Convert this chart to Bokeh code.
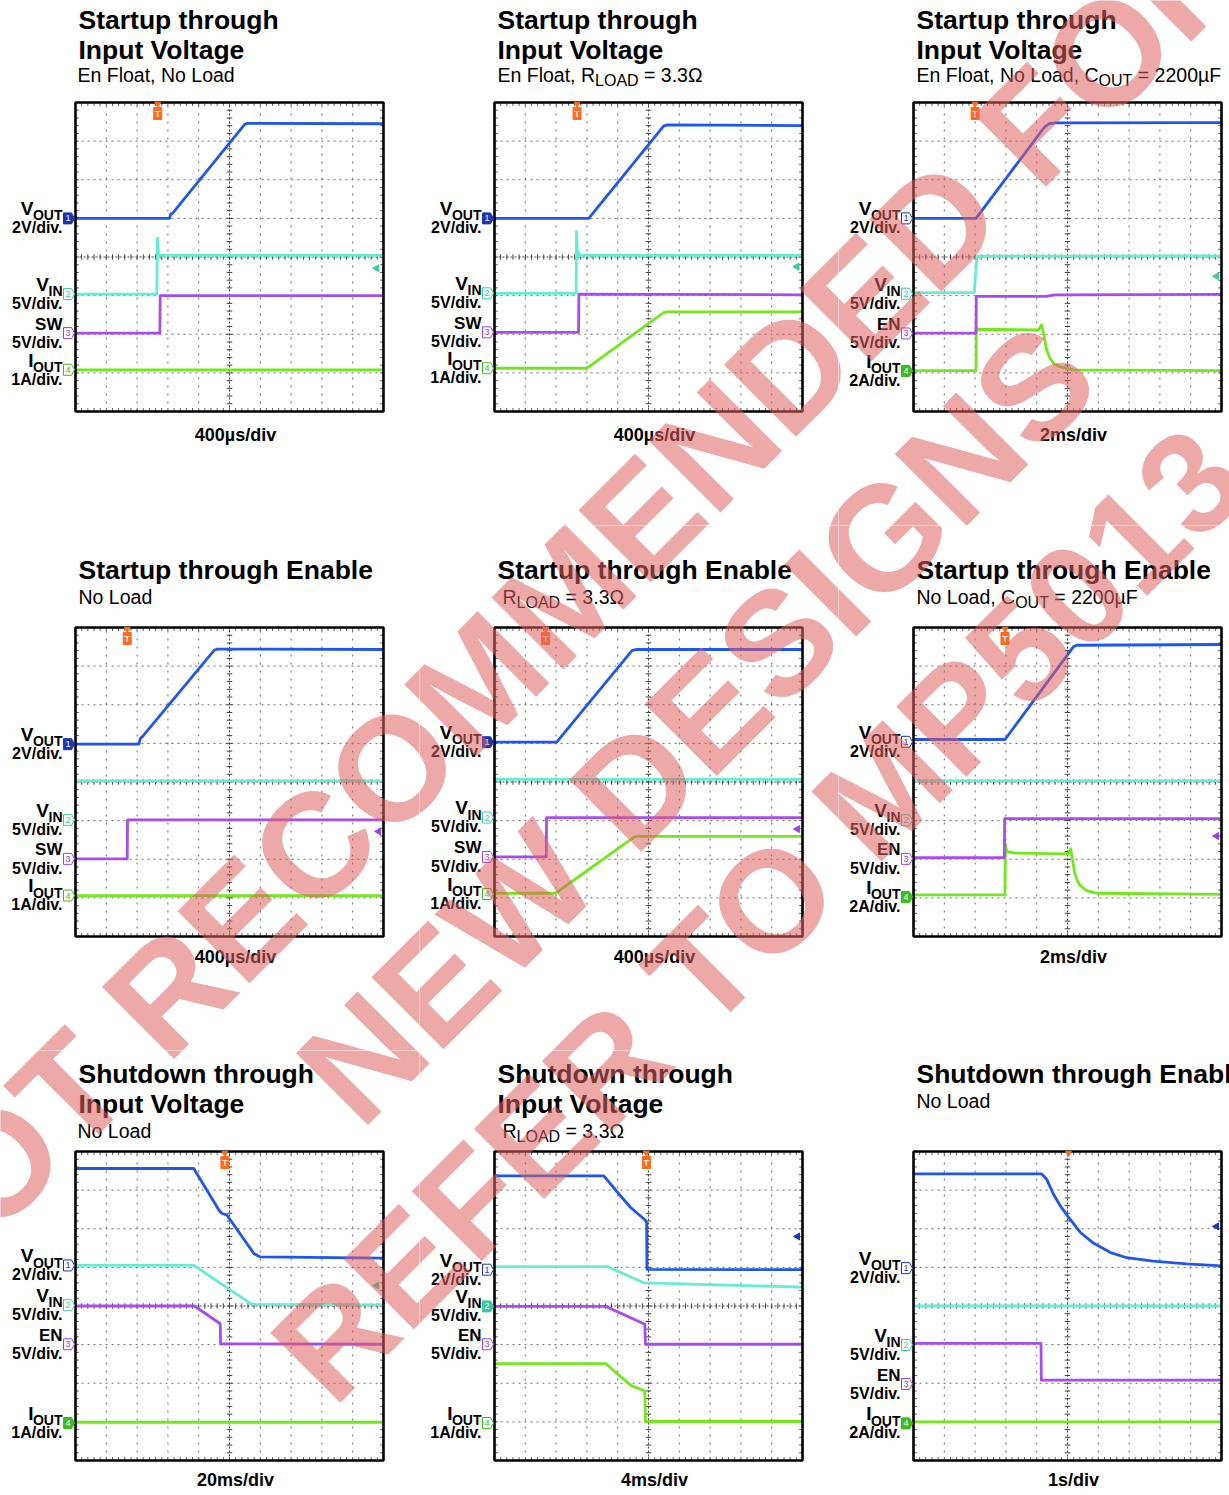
import numpy as np
from bokeh.plotting import figure
from bokeh.models import Label, Range1d
from bokeh.core.properties import value
from bokeh.layouts import column, row
from bokeh.embed import file_html
from bokeh.resources import INLINE

FONT = "Liberation Sans"

# ---------------- data (scope divisions: x 0..10, y 0..8) ----------------
# Panel 1 : Startup through Input Voltage, En Float, No Load
P1_VOUT_T = [0, 3.05, 3.10, 3.15, 5.50, 5.60, 10]
P1_VOUT_V = [5.00, 5.00, 5.12, 5.13, 7.44, 7.46, 7.45]
P1_VIN_T = [0, 2.64, 2.66, 2.70, 10]
P1_VIN_V = [3.04, 3.04, 4.49, 4.04, 4.04]
P1_SW_T = [0, 2.74, 2.75, 10]
P1_SW_V = [2.03, 2.03, 3.00, 3.00]
P1_IOUT_T = [0, 10]
P1_IOUT_V = [1.08, 1.08]
P1_MARK = [5.00, 3.04, 2.03, 1.08]

# Panel 2 : Startup through Input Voltage, RLOAD = 3.3
P2_VOUT_T = [0, 3.06, 5.49, 5.60, 10]
P2_VOUT_V = [5.00, 5.00, 7.39, 7.42, 7.40]
P2_VIN_T = [0, 2.65, 2.66, 2.70, 2.74, 2.78, 10]
P2_VIN_V = [3.06, 3.06, 4.66, 3.95, 4.10, 4.04, 4.04]
P2_SW_T = [0, 2.73, 2.74, 10]
P2_SW_V = [2.05, 2.05, 3.04, 3.02]
P2_IOUT_T = [0, 3.00, 5.49, 5.60, 10]
P2_IOUT_V = [1.12, 1.12, 2.56, 2.58, 2.58]
P2_MARK = [5.00, 3.06, 2.05, 1.12]

# Panel 3 : Startup through Input Voltage, COUT = 2200uF
P3_VOUT_T = [0, 2.03, 4.25, 4.40, 4.60, 10]
P3_VOUT_V = [5.00, 5.00, 7.36, 7.45, 7.47, 7.48]
P3_VIN_T = [0, 1.97, 2.00, 2.06, 2.10, 10]
P3_VIN_V = [3.08, 3.08, 3.40, 4.00, 4.02, 4.03]
P3_EN_T = [0, 2.03, 2.04, 4.30, 4.60, 10]
P3_EN_V = [2.03, 2.03, 2.98, 2.98, 3.02, 3.03]
P3_IOUT_T = [0, 2.03, 2.04, 2.08, 4.05, 4.16, 4.24, 4.32, 4.42, 4.54, 4.70, 4.86, 5.19, 10]
P3_IOUT_V = [1.06, 1.06, 2.20, 2.13, 2.11, 2.24, 1.95, 1.60, 1.40, 1.25, 1.18, 1.14, 1.08, 1.06]
P3_MARK = [5.00, 3.05, 2.02, 1.05]

# Panel 4 : Startup through Enable, No Load
P4_VOUT_T = [0, 2.06, 2.10, 2.20, 4.50, 4.60, 10]
P4_VOUT_V = [4.98, 4.98, 5.12, 5.20, 7.41, 7.44, 7.43]
P4_VIN_T = [0, 10]
P4_VIN_V = [4.03, 4.03]
P4_SW_T = [0, 1.68, 1.69, 10]
P4_SW_V = [2.01, 2.01, 3.02, 3.02]
P4_IOUT_T = [0, 10]
P4_IOUT_V = [1.06, 1.06]
P4_MARK = [4.98, 3.02, 2.01, 1.06]

# Panel 5 : Startup through Enable, RLOAD = 3.3
P5_VOUT_T = [0, 2.02, 4.47, 4.60, 10]
P5_VOUT_V = [5.03, 5.03, 7.41, 7.43, 7.43]
P5_VIN_T = [0, 10]
P5_VIN_V = [4.07, 4.07]
P5_SW_T = [0, 1.68, 1.69, 10]
P5_SW_V = [2.06, 2.06, 3.08, 3.08]
P5_IOUT_T = [0, 1.98, 4.53, 4.65, 10]
P5_IOUT_V = [1.12, 1.12, 2.57, 2.59, 2.59]
P5_MARK = [5.03, 3.08, 2.06, 1.10]

# Panel 6 : Startup through Enable, COUT = 2200uF
P6_VOUT_T = [0, 2.97, 5.19, 5.30, 10]
P6_VOUT_V = [5.10, 5.10, 7.50, 7.54, 7.56]
P6_VIN_T = [0, 10]
P6_VIN_V = [4.03, 4.03]
P6_EN_T = [0, 2.95, 2.96, 10]
P6_EN_V = [2.04, 2.04, 3.05, 3.05]
P6_IOUT_T = [0, 2.97, 2.98, 3.03, 3.30, 5.03, 5.10, 5.17, 5.24, 5.32, 5.41, 5.62, 5.95, 10]
P6_IOUT_V = [1.08, 1.08, 2.40, 2.20, 2.16, 2.14, 2.27, 1.95, 1.62, 1.45, 1.32, 1.19, 1.12, 1.09]
P6_MARK = [5.04, 3.01, 2.01, 1.02]

# Panel 7 : Shutdown through Input Voltage, No Load
P7_VOUT_T = [0, 3.84, 4.66, 4.75, 4.92, 5.80, 6.00, 10]
P7_VOUT_V = [7.56, 7.56, 6.48, 6.40, 6.35, 5.35, 5.27, 5.24]
P7_VIN_T = [0, 3.84, 5.69, 5.85, 10]
P7_VIN_V = [5.05, 5.05, 4.06, 4.04, 4.03]
P7_EN_T = [0, 3.86, 4.70, 4.71, 10]
P7_EN_V = [4.00, 4.00, 3.54, 3.02, 3.01]
P7_IOUT_T = [0, 10]
P7_IOUT_V = [0.99, 0.99]
P7_MARK = [5.05, 4.02, 3.01, 0.97]

# Panel 8 : Shutdown through Input Voltage, RLOAD = 3.3
P8_VOUT_T = [0, 3.55, 4.04, 4.42, 4.90, 4.94, 4.95, 10]
P8_VOUT_V = [7.37, 7.37, 6.90, 6.55, 6.22, 6.15, 4.95, 4.94]
P8_VIN_T = [0, 3.66, 4.85, 10]
P8_VIN_V = [5.02, 5.02, 4.60, 4.49]
P8_EN_T = [0, 3.61, 4.88, 4.90, 10]
P8_EN_V = [3.99, 3.99, 3.53, 3.01, 3.01]
P8_IOUT_T = [0, 3.61, 4.04, 4.42, 4.88, 4.90, 10]
P8_IOUT_V = [2.51, 2.51, 2.21, 1.95, 1.80, 1.01, 1.01]
P8_MARK = [4.94, 3.99, 3.01, 0.97]

# Panel 9 : Shutdown through Enable, No Load
P9_VOUT_T = [0, 4.16, 4.32, 4.54, 4.76, 5.03, 5.41, 5.84, 6.38, 6.92, 7.78, 8.86, 10]
P9_VOUT_V = [7.42, 7.42, 7.29, 6.90, 6.60, 6.30, 5.91, 5.63, 5.39, 5.25, 5.16, 5.09, 5.04]
P9_VIN_T = [0, 10]
P9_VIN_V = [4.00, 4.00]
P9_EN_T = [0, 4.14, 4.15, 10]
P9_EN_V = [3.03, 3.03, 2.08, 2.08]
P9_IOUT_T = [0, 10]
P9_IOUT_V = [1.00, 1.00]
P9_MARK = [4.98, 2.99, 1.98, 0.96]

TITLES = [["Startup through", "Input Voltage"], ["Startup through", "Input Voltage"],
          ["Startup through", "Input Voltage"], ["Startup through Enable"],
          ["Startup through Enable"], ["Startup through Enable"],
          ["Shutdown through", "Input Voltage"], ["Shutdown through", "Input Voltage"],
          ["Shutdown through Enable"]]
SUBTITLES = [[("En Float, No Load", 0)],
             [("En Float, R", 0), ("LOAD", 1), (" = 3.3Ω", 0)],
             [("En Float, No Load, C", 0), ("OUT", 1), (" = 2200µF", 0)],
             [("No Load", 0)],
             [("R", 0), ("LOAD", 1), (" = 3.3Ω", 0)],
             [("No Load, C", 0), ("OUT", 1), (" = 2200µF", 0)],
             [("No Load", 0)],
             [("R", 0), ("LOAD", 1), (" = 3.3Ω", 0)],
             [("No Load", 0)]]
TIME_DIV = ["400µs/div", "400µs/div", "2ms/div", "400µs/div", "400µs/div", "2ms/div",
            "20ms/div", "4ms/div", "1s/div"]
NAMES_SW = [("V", "OUT", "2V/div."), ("V", "IN", "5V/div."), ("SW", "", "5V/div."), ("I", "OUT", "1A/div.")]
NAMES_EN2 = [("V", "OUT", "2V/div."), ("V", "IN", "5V/div."), ("EN", "", "5V/div."), ("I", "OUT", "2A/div.")]
NAMES_EN1 = [("V", "OUT", "2V/div."), ("V", "IN", "5V/div."), ("EN", "", "5V/div."), ("I", "OUT", "1A/div.")]
CH_NAMES = [NAMES_SW, NAMES_SW, NAMES_EN2, NAMES_SW, NAMES_SW, NAMES_EN2, NAMES_EN1, NAMES_EN1, NAMES_EN2]
FILLED = [0, 0, 3, 0, 0, 3, 3, 1, 3]
TRIGGER = [2.67, 2.68, 2.00, 1.68, 1.66, 2.97, 4.85, 4.93, 5.03]
ARROW_X = [9.78, 9.82, 9.84, 9.84, 9.84, 9.84, 9.78, 9.84, 9.84]
ARROW_Y = [3.71, 3.75, 3.50, 2.72, 2.78, 2.60, 4.53, 5.80, 6.06]
ARROW_CH = [1, 1, 1, 2, 2, 2, 1, 0, 0]

WATERMARK = ["NOT RECOMMENDED FOR", "NEW DESIGNS", "REFER TO MP5013"]

# ---------------- styling / layout ----------------
C_TRACE = ["#1f56f0", "#66ecd2", "#a64cf2", "#72e81c"]
C_MARK = ["#1c34b8", "#3cc8a0", "#9a40f0", "#3cbc1c"]
C_TRIG = "#ff6a1f"
COL_W = [419, 419, 391]
ROW_H = [525, 525, 445]
ROW_BT = [102, 102, 101]
COL_X0 = [0, 419, 838]
ROW_Y0 = [0, 525, 1050]
BL = 75
FW, FH = 308, 309
PX, PY = FW / 10.0, FH / 8.0
WM_POS = [(-120, 1279), (324, 1095), (298, 1374)]   # page px, start of each watermark line
WM_SIZE = [148, 148, 144]
TITLE_Y = [[382, 352], [382, 352], [382, 352], [357], [357], [357], [377, 347], [377, 347], [377]]
SUB_Y = [330, 330, 330, 333, 333, 333, 323, 323, 353]
SUB_X = [2, 3, 3, 3, 8, 3, 2, 8, 3]
TIME_Y = [-30, -30, -30, -27, -27, -27, -26, -26, -26]
MID = 0.35          # distance from text middle down to its baseline, in em

REG_W = {' ': 278, ',': 278, '.': 278, '/': 278, '=': 584, 'µ': 556, 'Ω': 768,
         'A': 667, 'C': 722, 'D': 722, 'E': 667, 'F': 611, 'I': 278, 'L': 556, 'N': 722,
         'O': 778, 'R': 722, 'S': 667, 'T': 611, 'U': 722, 'V': 667, 'W': 944,
         'a': 556, 'd': 556, 'l': 222, 'n': 556, 'o': 556, 't': 278}
for _c in "0123456789":
    REG_W[_c] = 556
BOLD_W = {' ': 278, '.': 278, '/': 278, 'A': 722, 'E': 667, 'I': 278, 'N': 722, 'O': 778,
          'S': 667, 'T': 611, 'U': 722, 'V': 667, 'W': 944, 'd': 611, 'i': 278, 'v': 556}


def tw(s, size, bold=False):
    t = BOLD_W if bold else REG_W
    return sum(t.get(c, 556) for c in s) * size / 1000.0


def lab(p, **kw):
    kw.setdefault("text_font", FONT)
    kw.setdefault("text_color", "black")
    p.add_layout(Label(**kw))


def make_panel(k, traces, marks):
    col, rw = k % 3, k // 3
    w, h, bt = COL_W[col], ROW_H[rw], ROW_BT[rw]
    bb = h - bt - FH                       # px below scope screen
    p = figure(width=w, height=h,
               x_range=Range1d(-BL / PX, (w - BL) / PX),
               y_range=Range1d(-bb / PY, 8 + bt / PY),
               output_backend="svg", toolbar_location=None,
               x_axis_location=None, y_axis_location=None,
               min_border=0, min_border_left=0, min_border_right=0,
               min_border_top=0, min_border_bottom=0,
               outline_line_color=None,
               background_fill_color="white", border_fill_color="white")
    p.grid.visible = False

    def sx(v):   # px relative to scope left edge -> figure screen x
        return BL + v

    def sy(v):   # px above scope bottom edge -> figure screen y
        return bb + v

    # graticule
    gx = [1, 2, 3, 4, 6, 7, 8, 9]
    gy = [1, 2, 3, 5, 6, 7]
    p.segment(x0=gx, x1=gx, y0=0, y1=8, line_color="#6a6a6a", line_dash="2 6", line_width=1)
    p.segment(x0=0, x1=10, y0=gy, y1=gy, line_color="#6a6a6a", line_dash="2 4", line_width=1)
    p.segment(x0=[5, 0], x1=[5, 10], y0=[0, 4], y1=[8, 4], line_color="#404040",
              line_dash="2 2", line_width=1)
    xs = np.arange(0.2, 10.0, 0.2)
    ys = np.arange(0.2, 8.0, 0.2)
    p.segment(x0=xs, x1=xs, y0=4 - 0.07, y1=4 + 0.07, line_color="#404040", line_width=1)
    p.segment(x0=5 - 0.09, x1=5 + 0.09, y0=ys, y1=ys, line_color="#404040", line_width=1)
    p.segment(x0=xs, x1=xs, y0=8 - 0.09, y1=8, line_color="#606060", line_width=1)
    p.segment(x0=xs, x1=xs, y0=0, y1=0.09, line_color="#606060", line_width=1)
    p.segment(x0=0, x1=0.11, y0=ys, y1=ys, line_color="#606060", line_width=1)
    p.segment(x0=10 - 0.11, x1=10, y0=ys, y1=ys, line_color="#606060", line_width=1)

    # traces: draw IOUT, EN/SW, VIN, VOUT
    for ci in [3, 2, 1, 0]:
        t, v = traces[ci]
        p.line(t, v, line_color=C_TRACE[ci], line_width=2.8, line_join="round")

    # scope border
    p.quad(left=[0], right=[10], bottom=[0], top=[8], fill_color=None,
           line_color="black", line_width=2.6)

    # trigger marker
    p.scatter([TRIGGER[k]], [8 - 1.5 / PY], marker="inverted_triangle", size=6,
              color=C_TRIG, line_color=C_TRIG)
    if k != 8:
        p.rect(x=[TRIGGER[k]], y=[8 - 11 / PY], width=8 / PX, height=12 / PY,
               fill_color=C_TRIG, line_color=C_TRIG)
        p.text(x=[TRIGGER[k]], y=[8 - 11 / PY], text=["T"], text_font=value(FONT),
               text_font_size="9px", text_font_style="bold", text_color="#ffeedd",
               text_align="center", text_baseline="middle")
    # right-edge level arrow
    p.scatter([ARROW_X[k]], [ARROW_Y[k]], marker="triangle", angle=np.pi / 2, size=7,
              color=C_MARK[ARROW_CH[k]])

    # channel markers + labels
    mk_x = [v / PX for v in (-12, -4, -1, -4, -12)]
    mk_y = [v / PY for v in (5.5, 5.5, 0, -5.5, -5.5)]
    for ci, (main, sub, scale) in enumerate(CH_NAMES[k]):
        lvl = marks[ci]
        filled = (ci == FILLED[k])
        p.patch(x=mk_x, y=[lvl + d for d in mk_y], fill_color=C_MARK[ci] if filled else "white",
                line_color=C_MARK[ci], line_width=1)
        p.text(x=[-7.5 / PX], y=[lvl], text=[str(ci + 1)], text_font=value(FONT),
               text_font_size="9px", text_color="white" if filled else C_MARK[ci],
               text_align="center", text_baseline="middle")
        xr = sx(-13)
        if sub:
            lab(p, x=xr, y=lvl, x_units="screen", y_units="data", y_offset=-2 + MID * 14,
                text=sub, text_align="right", text_baseline="middle", text_font_size="14px",
                text_font_style="bold")
            lab(p, x=xr - tw(sub, 14, True) + 0.5, y=lvl, x_units="screen", y_units="data",
                y_offset=3 + MID * 19, text=main, text_align="right", text_baseline="middle",
                text_font_size="19px", text_font_style="bold")
        else:
            lab(p, x=xr, y=lvl, x_units="screen", y_units="data", y_offset=3 + MID * 17,
                text=main, text_align="right", text_baseline="middle", text_font_size="17px",
                text_font_style="bold")
        lab(p, x=xr, y=lvl, x_units="screen", y_units="data", y_offset=-15 + MID * 16,
            text=scale, text_align="right", text_baseline="middle", text_font_size="16px",
            text_font_style="bold")

    # titles
    for line, ty in zip(TITLES[k], TITLE_Y[k]):
        lab(p, x=sx(3), y=sy(ty + MID * 26.5), x_units="screen", y_units="screen", text=line,
            text_align="left", text_baseline="middle", text_font_size="26.5px",
            text_font_style="bold")
    x = SUB_X[k]
    for txt, is_sub in SUBTITLES[k]:
        size = 16 if is_sub else 19.5
        lead = len(txt) - len(txt.lstrip(" "))
        x += tw(" " * lead, size)
        body = txt.lstrip(" ")
        lab(p, x=sx(x), y=sy(SUB_Y[k] - (5 if is_sub else 0) + MID * size), x_units="screen",
            y_units="screen", text=body, text_align="left", text_baseline="middle",
            text_font_size=f"{size}px")
        x += tw(body, size)
    lab(p, x=sx(FW / 2 + 6), y=sy(TIME_Y[k] + MID * 18), x_units="screen", y_units="screen",
        text=TIME_DIV[k], text_align="center", text_baseline="middle",
        text_font_size="18px", text_font_style="bold")

    # watermark (continuous across the page)
    x0, y0 = COL_X0[col], ROW_Y0[rw]
    for txt, (X, Y), fs in zip(WATERMARK, WM_POS, WM_SIZE):
        lab(p, x=X - x0, y=y0 + h - Y, x_units="screen", y_units="screen", text=txt,
            angle=45, angle_units="deg", text_align="left", text_baseline="middle",
            text_font_size=f"{fs}px", text_font_style="bold", text_color="#de6060",
            text_alpha=0.55)
    return p


PANELS = [
    ([(P1_VOUT_T, P1_VOUT_V), (P1_VIN_T, P1_VIN_V), (P1_SW_T, P1_SW_V), (P1_IOUT_T, P1_IOUT_V)], P1_MARK),
    ([(P2_VOUT_T, P2_VOUT_V), (P2_VIN_T, P2_VIN_V), (P2_SW_T, P2_SW_V), (P2_IOUT_T, P2_IOUT_V)], P2_MARK),
    ([(P3_VOUT_T, P3_VOUT_V), (P3_VIN_T, P3_VIN_V), (P3_EN_T, P3_EN_V), (P3_IOUT_T, P3_IOUT_V)], P3_MARK),
    ([(P4_VOUT_T, P4_VOUT_V), (P4_VIN_T, P4_VIN_V), (P4_SW_T, P4_SW_V), (P4_IOUT_T, P4_IOUT_V)], P4_MARK),
    ([(P5_VOUT_T, P5_VOUT_V), (P5_VIN_T, P5_VIN_V), (P5_SW_T, P5_SW_V), (P5_IOUT_T, P5_IOUT_V)], P5_MARK),
    ([(P6_VOUT_T, P6_VOUT_V), (P6_VIN_T, P6_VIN_V), (P6_EN_T, P6_EN_V), (P6_IOUT_T, P6_IOUT_V)], P6_MARK),
    ([(P7_VOUT_T, P7_VOUT_V), (P7_VIN_T, P7_VIN_V), (P7_EN_T, P7_EN_V), (P7_IOUT_T, P7_IOUT_V)], P7_MARK),
    ([(P8_VOUT_T, P8_VOUT_V), (P8_VIN_T, P8_VIN_V), (P8_EN_T, P8_EN_V), (P8_IOUT_T, P8_IOUT_V)], P8_MARK),
    ([(P9_VOUT_T, P9_VOUT_V), (P9_VIN_T, P9_VIN_V), (P9_EN_T, P9_EN_V), (P9_IOUT_T, P9_IOUT_V)], P9_MARK),
]

figs = [make_panel(k, tr, mk) for k, (tr, mk) in enumerate(PANELS)]
page = column(row(*figs[0:3]), row(*figs[3:6]), row(*figs[6:9]))

open("out.html", "w").write(file_html(page, INLINE))
